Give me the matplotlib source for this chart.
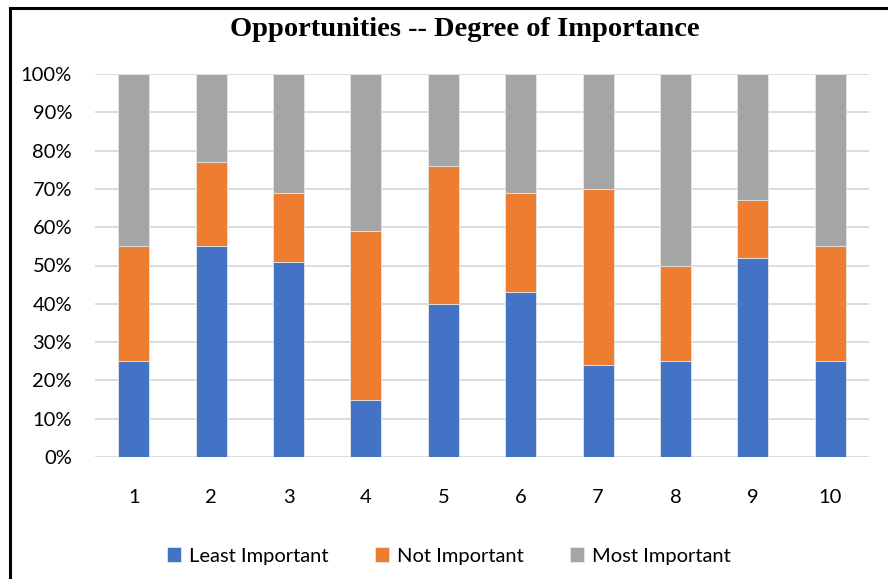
import numpy as np
import matplotlib.pyplot as plt
from matplotlib.lines import Line2D

# Share of responses per opportunity (percent)
items = ['1', '2', '3', '4', '5', '6', '7', '8', '9', '10']
least_important = [25, 55, 51, 15, 40, 43, 24, 25, 52, 25]
not_important = [30, 22, 18, 44, 36, 26, 46, 25, 15, 30]
most_important = [45, 23, 31, 41, 24, 31, 30, 50, 33, 45]

series = [
    ('Least Important', least_important, '#4472C4'),
    ('Not Important', not_important, '#ED7D31'),
    ('Most Important', most_important, '#A5A5A5'),
]

tick_font = 'Lato'
fs = 14.5

fig = plt.figure(figsize=(8.88, 5.79), dpi=100)
ax = fig.add_axes([95 / 888, 122 / 579, 774 / 888, 383 / 579])

x = np.arange(len(items))
bottom = np.zeros(len(items))
for label, vals, color in series:
    vals = np.array(vals, dtype=float)
    ax.bar(x, vals, width=0.4, bottom=bottom, color=color, label=label,
           edgecolor='#e6e6e6', linewidth=0.6, zorder=3)
    bottom += vals

ax.set_xlim(-0.5, len(items) - 0.5)
ax.set_ylim(0, 100)
ax.set_yticks(np.arange(0, 101, 10))
ax.set_yticklabels([f'{v}%' for v in range(0, 101, 10)], fontsize=fs, family=tick_font)
ax.set_xticks(x)
ax.set_xticklabels(items, fontsize=fs, family=tick_font)
ax.tick_params(axis='both', length=0)
ax.tick_params(axis='x', pad=23)
ax.tick_params(axis='y', pad=16.5)
ax.grid(axis='y', color='#D9D9D9', linewidth=1.3, zorder=0)
for s in ax.spines.values():
    s.set_visible(False)

fig.text(465 / 888, 1 - 30 / 579, 'Opportunities -- Degree of Importance',
         ha='center', va='center', fontsize=20.5, fontweight='bold',
         family='Liberation Serif')

fig.legend(loc='center', bbox_to_anchor=(449 / 888, 1 - 556 / 579), ncol=3,
           frameon=False, prop={'family': tick_font, 'size': fs},
           handlelength=0.7, handleheight=0.7, handletextpad=0.4,
           columnspacing=2.3)

# frame lines along top and left edges
fig.add_artist(Line2D([10 / 888, 1], [1 - 8 / 579, 1 - 8 / 579],
                      transform=fig.transFigure, color='black', linewidth=2.2))
fig.add_artist(Line2D([10 / 888, 10 / 888], [0, 1 - 8 / 579],
                      transform=fig.transFigure, color='black', linewidth=2.2))

fig.savefig('out.png', dpi=100)
